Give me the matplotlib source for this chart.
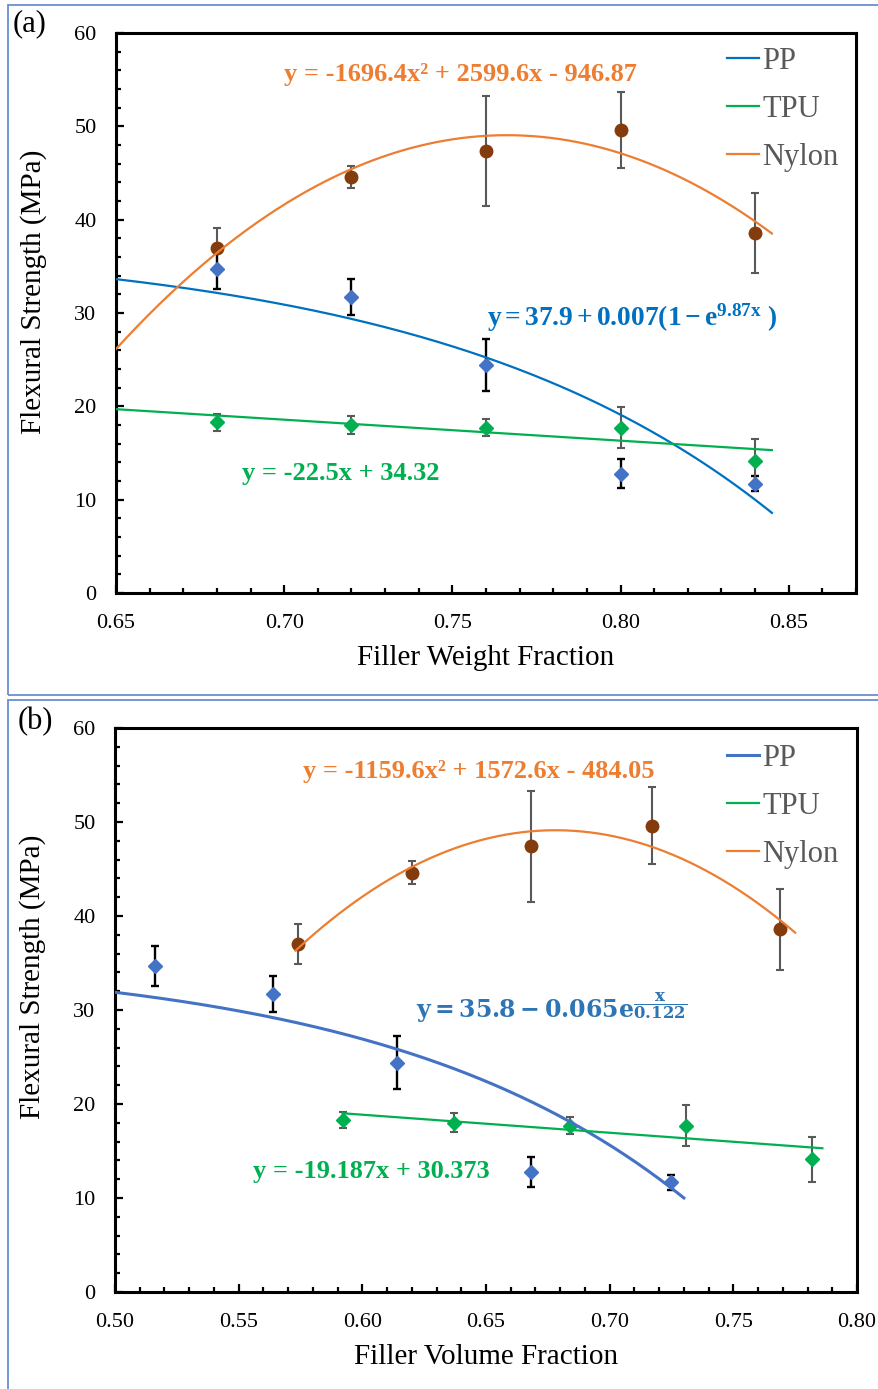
import numpy as np
import matplotlib
matplotlib.use("Agg")
import matplotlib.pyplot as plt
from matplotlib.patches import Rectangle
from matplotlib.ticker import MultipleLocator, FormatStrFormatter

plt.rcParams['font.family'] = ['Liberation Serif', 'DejaVu Serif']
plt.rcParams['mathtext.fontset'] = 'custom'
plt.rcParams['mathtext.rm'] = 'Liberation Serif'
plt.rcParams['mathtext.bf'] = 'Liberation Serif:bold'
plt.rcParams['mathtext.it'] = 'Liberation Serif:italic'

# ---- measured flexural strength (mean, std) ----
weight_fraction = [0.68, 0.72, 0.76, 0.80, 0.84]
vol_frac_nylon = [0.574, 0.620, 0.668, 0.717, 0.769]
vol_frac_pp = [0.516, 0.564, 0.614, 0.668, 0.725]
vol_frac_tpu = [0.592, 0.637, 0.684, 0.731, 0.782]

nylon_mean = [37.0, 44.6, 47.4, 49.6, 38.6]
nylon_err = [2.1, 1.2, 5.9, 4.1, 4.3]
pp_mean = [34.7, 31.7, 24.4, 12.8, 11.7]
pp_err = [2.1, 1.9, 2.8, 1.6, 0.8]
tpu_mean = [18.3, 18.0, 17.7, 17.7, 14.1]
tpu_err = [0.9, 1.0, 0.9, 2.2, 2.4]

# ---- trendline coefficients ----
nylon_wt_fit = [-1696.4, 2599.6, -946.87]      # quadratic
tpu_wt_fit = [-22.5, 34.32]                     # linear
pp_wt_fit = [37.9, 0.007, 9.87]                 # a + b(1 - e^(c x))
nylon_vf_fit = [-1159.6, 1572.6, -484.05]
tpu_vf_fit = [-19.187, 30.373]
pp_vf_fit = [35.8, 0.065, 0.122]                # a - b e^(x / c)

legend_labels = ["PP", "TPU", "Nylon"]

ORANGE = "#ED7D31"
GREEN = "#00B050"
BLUE_A = "#0070C0"
BLUE_B = "#4472C4"
BROWN = "#843C0C"
GREY = "#595959"

fig = plt.figure(figsize=(8.79, 13.89), dpi=100)

# light blue frames round each panel
fig.add_artist(Rectangle((8 / 879, 1 - 695 / 1389), 1.2, 690 / 1389,
                         transform=fig.transFigure, fill=False,
                         ec="#6A8FD4", lw=1.3, clip_on=False))
fig.add_artist(Rectangle((8 / 879, -0.2), 1.2, 0.2 + 1 - 700 / 1389,
                         transform=fig.transFigure, fill=False,
                         ec="#6A8FD4", lw=1.3, clip_on=False))

ax_a = fig.add_axes([116 / 879, 1 - 593 / 1389, 740 / 879, 560 / 1389])
ax_b = fig.add_axes([115 / 879, 1 - 1292 / 1389, 742 / 879, 564 / 1389])


def style_axes(ax, xlim, xlabel, ylabel_y):
    ax.set_xlim(*xlim)
    ax.set_ylim(0, 60)
    ax.xaxis.set_major_locator(MultipleLocator(0.05))
    ax.xaxis.set_minor_locator(MultipleLocator(0.01))
    ax.yaxis.set_major_locator(MultipleLocator(10))
    ax.yaxis.set_minor_locator(MultipleLocator(2))
    ax.xaxis.set_major_formatter(FormatStrFormatter("%.2f"))
    ax.tick_params(which="both", direction="in", width=1.6, colors="black",
                   labelsize=16)
    ax.tick_params(which="major", length=5.5)
    ax.tick_params(which="minor", length=3.5)
    ax.tick_params(axis="y", pad=14)
    ax.tick_params(axis="x", pad=15)
    for s in ax.spines.values():
        s.set_linewidth(2.2)
        s.set_color("black")
    ax.set_xlabel(xlabel, fontsize=21)
    ax.set_ylabel("Flexural Strength (MPa)", fontsize=21)
    ax.xaxis.set_label_coords(0.5, -0.093)
    ax.yaxis.set_label_coords(-0.093, ylabel_y)


def draw_points(ax, x_nylon, x_pp, x_tpu):
    ax.errorbar(x_nylon, nylon_mean, yerr=nylon_err, fmt="o", ms=9,
                color=BROWN, ecolor=GREY, elinewidth=1.5, capsize=3,
                capthick=1.5, zorder=2)
    ax.errorbar(x_pp, pp_mean, yerr=pp_err, fmt="D", ms=7,
                color=BLUE_B, ecolor="black", elinewidth=1.7, capsize=3,
                capthick=1.7, zorder=2)
    ax.errorbar(x_tpu, tpu_mean, yerr=tpu_err, fmt="D", ms=7,
                color=GREEN, ecolor=GREY, elinewidth=1.5, capsize=3,
                capthick=1.5, zorder=2)


def add_legend(ax, handles, anchor):
    ax.legend(handles, legend_labels, loc="upper left",
              bbox_to_anchor=anchor, frameon=False, fontsize=22,
              handlelength=1.05, handletextpad=0.1, labelspacing=0.62,
              borderpad=0, borderaxespad=0, labelcolor=GREY)


# ---------------- (a) weight fraction ----------------
style_axes(ax_a, (0.65, 0.87), "Filler Weight Fraction", 0.5375)
draw_points(ax_a, weight_fraction, weight_fraction, weight_fraction)

xa = np.linspace(0.65, 0.845, 300)
a, b, c = pp_wt_fit
l_pp, = ax_a.plot(xa, a + b * (1 - np.exp(c * xa)), color=BLUE_A, lw=1.6, zorder=3)
l_tpu, = ax_a.plot(xa, np.polyval(tpu_wt_fit, xa), color=GREEN, lw=1.6, zorder=3)
l_ny, = ax_a.plot(xa, np.polyval(nylon_wt_fit, xa), color=ORANGE, lw=1.6, zorder=3)

add_legend(ax_a, [l_pp, l_tpu, l_ny], (0.8257, 0.975))

ax_a.text(0.465, 0.925, "y = -1696.4x² + 2599.6x - 946.87",
          transform=ax_a.transAxes, ha="center", va="center",
          color=ORANGE, fontsize=19, fontweight="bold")
ax_a.text(0.697, 0.491, r"$\mathbf{y = 37.9 + 0.007(1 - e^{9.87x}\ )}$",
          transform=ax_a.transAxes, ha="center", va="center",
          color=BLUE_A, fontsize=19.8)
ax_a.text(0.304, 0.214, "y = -22.5x + 34.32",
          transform=ax_a.transAxes, ha="center", va="center",
          color=GREEN, fontsize=19, fontweight="bold")

# ---------------- (b) volume fraction ----------------
style_axes(ax_b, (0.50, 0.80), "Filler Volume Fraction", 0.558)
draw_points(ax_b, vol_frac_nylon, vol_frac_pp, vol_frac_tpu)

x_pp_b = np.linspace(0.50, 0.73, 300)
x_tpu_b = np.linspace(0.592, 0.786, 300)
x_ny_b = np.linspace(0.573, 0.775, 300)
a, b, c = pp_vf_fit
m_pp, = ax_b.plot(x_pp_b, a - b * np.exp(x_pp_b / c), color=BLUE_B, lw=2.2, zorder=3)
m_tpu, = ax_b.plot(x_tpu_b, np.polyval(tpu_vf_fit, x_tpu_b), color=GREEN, lw=1.6, zorder=3)
m_ny, = ax_b.plot(x_ny_b, np.polyval(nylon_vf_fit, x_ny_b), color=ORANGE, lw=1.6, zorder=3)

add_legend(ax_b, [m_pp, m_tpu, m_ny], (0.8248, 0.972))

ax_b.text(0.4906, 0.922, "y = -1159.6x² + 1572.6x - 484.05",
          transform=ax_b.transAxes, ha="center", va="center",
          color=ORANGE, fontsize=19, fontweight="bold")
ax_b.text(0.589, 0.505, r"$\mathbf{y = 35.8 - 0.065e^{\dfrac{x}{0.122}}}$",
          transform=ax_b.transAxes, ha="center", va="center",
          color="#2E75B6", fontsize=17, math_fontfamily="dejavuserif")
ax_b.text(0.346, 0.2145, "y = -19.187x + 30.373",
          transform=ax_b.transAxes, ha="center", va="center",
          color=GREEN, fontsize=19, fontweight="bold")

fig.text(13 / 879, 1 - 9 / 1389, "(a)", ha="left", va="top", fontsize=22)
fig.text(18 / 879, 1 - 707 / 1389, "(b)", ha="left", va="top", fontsize=22)

fig.savefig("out.png", dpi=100)
